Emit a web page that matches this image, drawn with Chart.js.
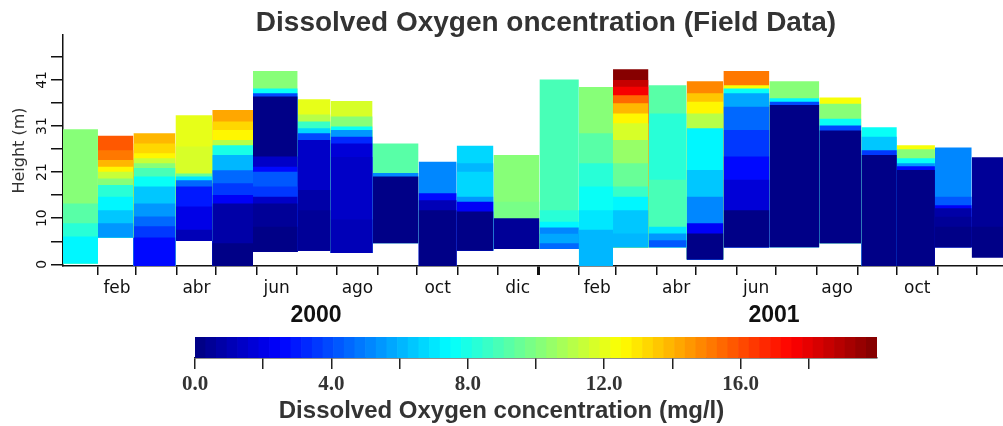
<!DOCTYPE html>
<html>
<head>
<meta charset="utf-8">
<script src="https://cdn.jsdelivr.net/npm/chart.js@4.4.1/dist/chart.umd.min.js"></script>
<style>
  html, body { margin: 0; padding: 0; background: #fff; }
  #wrap { position: relative; width: 1003px; height: 426px; overflow: hidden; }
  #main { position: absolute; left: 0; top: 0; }
  #scaleBar { position: absolute; left: 0; top: 332px; }
</style>
</head>
<body>
<div id="wrap">
  <canvas id="main" width="1003" height="332"></canvas>
  <canvas id="scaleBar" width="1003" height="94"></canvas>
</div>
<script>
// ---- data ---------------------------------------------------------------
const chartTitle = 'Dissolved Oxygen oncentration (Field Data)';
const colorbarTitle = 'Dissolved Oxygen concentration (mg/l)';
const heightTitle = 'Height (m)';

// sampling periods: column edges, days since 1 Jan 2000
const periodEdges = [4.4, 31, 58, 90, 118, 149, 183, 208, 240, 275, 304, 332,
  367, 397, 423, 450, 479, 507, 542, 580, 612, 639, 668, 696, 719.8];

// lowest measured height of each profile (m)
const columnBottoms = [0.2, 6.0, -0.38, 5.2, -0.38, 2.8, 3.0, 2.5, 4.7, -0.38, 3.0, 3.4,
  3.4, -0.38, 3.8, 3.8, 1.1, 3.8, 3.8, 4.7, -0.38, -0.38, 3.8, 1.5];

// each profile: [top of layer (m), dissolved oxygen (mg/l)], bottom to surface
const doProfiles = [
  [[6.2, 7.3], [9.2, 8.2], [13.6, 9.3], [30.2, 10.2]],
  [[9.2, 5.6], [12.1, 6.3], [15.1, 7.3], [17.7, 8.3], [19.2, 10.0], [20.7, 11.3], [21.8, 12.5], [23.3, 14.0], [25.5, 15.0], [28.7, 15.8]],
  [[6.0, 2.5], [8.5, 3.5], [10.7, 4.5], [13.6, 5.5], [17.4, 6.4], [19.6, 7.5], [21.5, 8.8], [22.6, 10.0], [23.7, 11.3], [24.8, 12.5], [27.0, 13.3], [29.3, 14.0]],
  [[7.7, 1.2], [12.9, 2.0], [17.4, 3.0], [18.8, 4.5], [19.6, 7.0], [20.3, 9.5], [26.3, 11.6], [33.3, 12.1]],
  [[4.7, 0.3], [13.6, 0.7], [15.5, 2.2], [18.1, 3.6], [21.0, 4.6], [24.4, 6.2], [26.6, 8.0], [27.8, 11.0], [30.0, 12.5], [31.9, 13.3], [34.5, 14.3]],
  [[8.4, 0.2], [13.6, 0.5], [15.1, 1.3], [17.4, 3.6], [20.7, 4.3], [21.8, 2.5], [24.1, 1.3], [37.5, 0.3], [38.2, 3.8], [39.3, 7.5], [43.2, 10.0]],
  [[12.1, 0.4], [16.6, 0.9], [27.8, 1.3], [29.3, 3.8], [30.4, 6.8], [31.9, 8.5], [33.5, 11.0], [36.9, 12.0]],
  [[10.0, 1.2], [24.0, 1.3], [27.0, 1.6], [28.5, 3.2], [30.0, 5.5], [30.8, 7.5], [33.0, 10.0], [36.5, 11.6]],
  [[19.6, 0.3], [20.4, 5.0], [27.0, 9.3]],
  [[12.1, 0.3], [14.3, 1.2], [15.9, 2.8], [22.9, 5.3]],
  [[11.8, 0.3], [14.0, 2.3], [15.1, 5.5], [20.7, 6.6], [22.6, 6.2], [26.5, 6.6]],
  [[10.3, 0.4], [14.0, 9.8], [24.4, 10.2]],
  [[4.7, 4.6], [6.8, 5.9], [8.2, 5.3], [9.5, 7.2], [12.1, 8.3], [41.3, 9.0]],
  [[7.7, 6.2], [12.1, 6.9], [17.4, 7.5], [22.6, 8.3], [29.3, 9.3], [39.6, 10.2]],
  [[6.9, 6.0], [12.1, 6.4], [15.1, 7.3], [17.4, 8.5], [22.6, 9.6], [27.8, 10.6], [31.5, 11.6], [33.7, 12.5], [36.0, 13.8], [37.8, 15.6], [39.7, 17.5], [41.2, 18.7], [43.6, 19.7]],
  [[5.4, 4.3], [6.9, 5.6], [8.4, 7.0], [18.9, 8.9], [33.7, 8.4], [40.0, 9.2]],
  [[6.9, 0.3], [9.2, 2.3], [15.1, 5.2], [21.1, 6.3], [30.4, 7.2], [33.7, 11.1], [36.3, 12.5], [38.2, 13.5], [40.9, 14.7]],
  [[12.1, 0.3], [18.9, 1.6], [24.1, 2.6], [30.0, 3.6], [35.2, 4.6], [38.2, 5.7], [39.3, 7.6], [40.0, 12.3], [43.2, 15.3]],
  [[35.6, 0.3], [36.3, 3.8], [37.1, 7.3], [40.9, 10.0]],
  [[29.9, 0.3], [31.0, 4.0], [32.5, 7.8], [35.9, 10.2], [37.3, 12.3]],
  [[24.4, 0.3], [25.5, 3.5], [28.5, 6.5], [30.6, 7.5]],
  [[21.1, 0.3], [21.9, 2.5], [22.6, 5.5], [23.7, 7.6], [25.7, 10.2], [26.6, 12.4]],
  [[8.4, 0.3], [10.6, 0.6], [12.5, 0.8], [13.2, 2.3], [15.1, 4.3], [26.1, 5.3]],
  [[8.4, 0.3], [23.9, 0.5]]
];

// time axis: first day of each month, and labelled mid-months
const monthTicks = [31, 60, 91, 121, 152, 182, 213, 244, 274, 305, 335, 366,
  397, 425, 456, 486, 517, 547, 578, 609, 639, 670, 700];
const yearStartDay = 366;
const monthLabelDays = [45.5, 106, 167, 228.5, 289.5, 350.5, 411, 471, 532, 593.5, 654.5];
const monthLabels = ['feb', 'abr', 'jun', 'ago', 'oct', 'dic', 'feb', 'abr', 'jun', 'ago', 'oct'];
const yearLabelDays = [197, 545.5];
const yearLabels = ['2000', '2001'];

// height axis
const heightTicks = [0, 5.15, 10.3, 15.45, 20.6, 25.75, 30.9, 36.05, 41.2, 46.35];
const heightTickLabels = ['0', '', '10', '', '21', '', '31', '', '41', ''];

// colour scale
const doMax = 20;
const doTicks = [0, 2, 4, 6, 8, 10, 12, 14, 16, 18];
const doTickLabels = ['0.0', '', '4.0', '', '8.0', '', '12.0', '', '16.0', ''];
const colorSteps = 64;

// ---- helpers ------------------------------------------------------------
function jetColor(v) {
  let k = Math.floor(v / doMax * colorSteps);
  k = Math.max(0, Math.min(colorSteps - 1, k));
  const t = (k + 0.5) / colorSteps;
  const c = x => Math.round(255 * Math.max(0, Math.min(1, x)));
  return 'rgb(' + c(1.5 - Math.abs(4 * t - 3)) + ',' + c(1.5 - Math.abs(4 * t - 2)) + ',' + c(1.5 - Math.abs(4 * t - 1)) + ')';
}

// one filled band per layer; each band is filled down to the profile bottom,
// bottom layers come first so they are painted last (on top)
const datasets = [];
doProfiles.forEach((profile, i) => {
  const x0 = periodEdges[i], x1 = periodEdges[i + 1];
  const bottom = columnBottoms[i];
  profile.forEach(([top, value]) => {
    datasets.push({
      data: [{ x: x0, y: top }, { x: x1, y: top }],
      fill: { value: bottom },
      backgroundColor: jetColor(value),
      borderColor: 'rgba(0,0,0,0)',
      borderWidth: 0,
      pointRadius: 0,
      pointHoverRadius: 0,
      tension: 0
    });
  });
});

const xMin = periodEdges[0];
const xMax = periodEdges[periodEdges.length - 1];

// rotated labels on the height axis
const heightLabelsPlugin = {
  id: 'heightLabels',
  afterDraw(chart) {
    const ys = chart.scales.y;
    const ctx = chart.ctx;
    ctx.save();
    ctx.font = '14px "DejaVu Sans"';
    ctx.fillStyle = '#111';
    ctx.textAlign = 'center';
    ctx.textBaseline = 'middle';
    heightTicks.forEach((v, i) => {
      const lab = heightTickLabels[i];
      if (!lab) return;
      ctx.save();
      ctx.translate(ys.right - 21, ys.getPixelForValue(v));
      ctx.rotate(-Math.PI / 2);
      ctx.fillText(lab, 0, 0);
      ctx.restore();
    });
    ctx.restore();
  }
};

// heading above the plot
const headingPlugin = {
  id: 'heading',
  afterDraw(chart) {
    const ctx = chart.ctx;
    const area = chart.chartArea;
    ctx.save();
    ctx.font = 'bold 28px "Liberation Sans"';
    ctx.fillStyle = '#333';
    ctx.textAlign = 'center';
    ctx.textBaseline = 'alphabetic';
    ctx.fillText(chartTitle, (area.left + area.right) / 2 + 13, area.top - 4);
    ctx.restore();
  }
};

const fixedTicks = values => scale => { scale.ticks = values.map(v => ({ value: v })); };

new Chart(document.getElementById('main'), {
  type: 'line',
  data: { datasets },
  options: {
    responsive: false,
    animation: false,
    events: [],
    layout: { padding: { top: 35, left: 0, right: 0, bottom: 0 } },
    plugins: { legend: { display: false }, tooltip: { enabled: false }, title: { display: false } },
    scales: {
      x: {
        type: 'linear', min: xMin, max: xMax, position: 'bottom', weight: 0,
        afterBuildTicks: fixedTicks(monthTicks),
        ticks: { display: false, autoSkip: false },
        grid: {
          drawOnChartArea: false, tickLength: 9, color: '#111',
          lineWidth: ctx => (ctx.tick && ctx.tick.value === yearStartDay) ? 3 : 1.5
        },
        border: { display: true, color: '#111', width: 1.5 },
        afterFit: s => { s.height = 9; }
      },
      xMonth: {
        type: 'linear', min: xMin, max: xMax, position: 'bottom', weight: 1,
        afterBuildTicks: fixedTicks(monthLabelDays),
        ticks: {
          autoSkip: false, maxRotation: 0, padding: 3, color: '#111',
          font: { family: 'DejaVu Sans', size: 17 },
          callback: (v, i) => monthLabels[i]
        },
        grid: { display: false, drawTicks: false },
        border: { display: false },
        afterFit: s => { s.height = 25; }
      },
      xYear: {
        type: 'linear', min: xMin, max: xMax, position: 'bottom', weight: 2,
        afterBuildTicks: fixedTicks(yearLabelDays),
        ticks: {
          autoSkip: false, maxRotation: 0, padding: 2, color: '#111',
          font: { family: 'Liberation Sans', size: 23, weight: 'bold' },
          callback: (v, i) => yearLabels[i]
        },
        grid: { display: false, drawTicks: false },
        border: { display: false },
        afterFit: s => { s.height = 32; }
      },
      y: {
        type: 'linear', min: -0.38, max: 51.24, position: 'left',
        afterBuildTicks: fixedTicks(heightTicks),
        ticks: { display: false, autoSkip: false },
        grid: { drawOnChartArea: false, tickLength: 12, color: '#111', lineWidth: 1.5 },
        border: { display: true, color: '#111', width: 1.5 },
        title: {
          display: true, text: heightTitle, color: '#333',
          font: { family: 'DejaVu Sans', size: 16 },
          padding: { top: 10, bottom: 0 }
        },
        afterFit: s => { s.width = 63; }
      }
    }
  },
  plugins: [heightLabelsPlugin, headingPlugin]
});

// ---- colour bar -----------------------------------------------------------
const stepWidth = doMax / colorSteps;
const barLevels = [];
const barColors = [];
for (let k = 0; k < colorSteps; k++) {
  const v = (k + 0.5) * stepWidth;
  barLevels.push({ x: v, y: 1 });
  barColors.push(jetColor(v));
}

new Chart(document.getElementById('scaleBar'), {
  type: 'bar',
  data: {
    datasets: [{
      data: barLevels,
      backgroundColor: barColors,
      borderWidth: 0,
      barPercentage: 1,
      categoryPercentage: 1
    }]
  },
  options: {
    responsive: false,
    animation: false,
    events: [],
    layout: { padding: { top: 5, left: 0, right: 0, bottom: 0 } },
    plugins: {
      legend: { display: false },
      tooltip: { enabled: false },
      title: {
        display: true, position: 'bottom', text: colorbarTitle, color: '#333',
        font: { family: 'Liberation Sans', size: 24, weight: 'bold' },
        padding: { top: 0, bottom: 0 }
      }
    },
    scales: {
      x: {
        type: 'linear', min: 0, max: doMax, offset: false, position: 'bottom',
        afterBuildTicks: fixedTicks(doTicks),
        ticks: {
          autoSkip: false, maxRotation: 0, padding: 3, color: '#333',
          font: { family: 'Liberation Serif', size: 21, weight: 'bold' },
          callback: (v, i) => doTickLabels[i]
        },
        grid: { drawOnChartArea: false, tickLength: 11, color: '#222', lineWidth: 1.5, offset: false },
        border: { display: true, color: '#222', width: 1.5 },
        afterFit: s => { s.height = 94 - 26 - 28.8; }
      },
      y: {
        min: 0, max: 1, position: 'left',
        ticks: { display: false }, grid: { display: false }, border: { display: false },
        afterFit: s => { s.width = 195; }
      },
      yRight: {
        type: 'linear', min: 0, max: 1, position: 'right',
        ticks: { display: false }, grid: { display: false }, border: { display: false },
        afterFit: s => { s.width = 126; }
      }
    }
  }
});
</script>
</body>
</html>
